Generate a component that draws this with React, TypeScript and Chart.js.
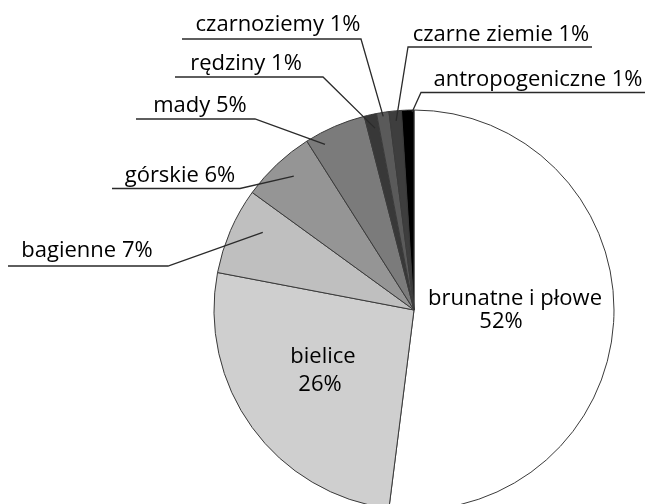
import React, { useEffect, useRef } from "react";
import { Chart, registerables } from "chart.js";

Chart.register(...registerables);

const categories = [
  "brunatne i płowe",
  "bielice",
  "bagienne",
  "górskie",
  "mady",
  "rędziny",
  "czarnoziemy",
  "czarne ziemie",
  "antropogeniczne",
];
const values = [52, 26, 7, 6, 5, 1, 1, 1, 1];
const sliceColors = [
  "#ffffff",
  "#cfcfcf",
  "#bfbfbf",
  "#959595",
  "#7b7b7b",
  "#383838",
  "#5a5a5a",
  "#3e3e3e",
  "#000000",
];

// layout of annotations (not data)
type Outside = { kind: "out"; cx: number; base: number; lineY: number; x0: number; knee: number; t: number; rf: number };
type Inside = { kind: "in"; lines: { cx: number; base: number }[] };
const labelLayout: (Outside | Inside)[] = [
  { kind: "in", lines: [{ cx: 515, base: 305 }, { cx: 501, base: 328 }] },
  { kind: "in", lines: [{ cx: 323, base: 363 }, { cx: 320, base: 391 }] },
  { kind: "out", cx: 87, base: 257, lineY: 266, x0: 8, knee: 168, t: 0.65, rf: 0.85 },
  { kind: "out", cx: 180, base: 182, lineY: 188.5, x0: 112, knee: 240, t: 0.56, rf: 0.9 },
  { kind: "out", cx: 200, base: 112, lineY: 119, x0: 136, knee: 255, t: 0.23, rf: 0.94 },
  { kind: "out", cx: 246, base: 70, lineY: 77, x0: 175, knee: 323, t: 0.64, rf: 0.93 },
  { kind: "out", cx: 278, base: 31, lineY: 39, x0: 182, knee: 361, t: 0.49, rf: 0.98 },
  { kind: "out", cx: 501, base: 41, lineY: 47, x0: 592, knee: 408, t: 0.5, rf: 0.95 },
  { kind: "out", cx: 538, base: 86, lineY: 92.5, x0: 645, knee: 421, t: 0.85, rf: 0.99 },
];

const labelPlugin = {
  id: "soilLabels",
  afterDatasetsDraw(chart: any) {
    const ctx = chart.ctx as CanvasRenderingContext2D;
    const meta = chart.getDatasetMeta(0);
    ctx.save();
    ctx.font = '22px "Open Sans"';
    ctx.fillStyle = "#000000";
    ctx.textBaseline = "alphabetic";
    ctx.textAlign = "center";
    labelLayout.forEach((lay, i) => {
      const arc = meta.data[i];
      if (!arc) return;
      const p = arc.getProps(["x", "y", "startAngle", "endAngle", "outerRadius"], true);
      if (lay.kind === "in") {
        ctx.fillText(categories[i], lay.lines[0].cx, lay.lines[0].base);
        ctx.fillText(values[i] + "%", lay.lines[1].cx, lay.lines[1].base);
      } else {
        const a = p.startAngle + lay.t * (p.endAngle - p.startAngle);
        const ex = p.x + Math.cos(a) * p.outerRadius * lay.rf;
        const ey = p.y + Math.sin(a) * p.outerRadius * lay.rf;
        ctx.beginPath();
        ctx.strokeStyle = "#2a2a2a";
        ctx.lineWidth = 1.3;
        ctx.moveTo(lay.x0, lay.lineY);
        ctx.lineTo(lay.knee, lay.lineY);
        ctx.lineTo(ex, ey);
        ctx.stroke();
        ctx.fillText(categories[i] + " " + values[i] + "%", lay.cx, lay.base);
      }
    });
    ctx.restore();
  },
};

export default function App() {
  const ref = useRef<HTMLCanvasElement>(null);
  useEffect(() => {
    document.body.style.margin = "0";
    document.body.style.overflow = "hidden";
    document.documentElement.style.overflow = "hidden";
    const chart = new Chart(ref.current!, {
      type: "pie",
      data: {
        labels: categories,
        datasets: [
          {
            data: values,
            backgroundColor: sliceColors,
            borderColor: "#3a3a3a",
            borderWidth: 1,
          },
        ],
      },
      options: {
        animation: false,
        responsive: false,
        radius: 200,
        layout: { padding: { left: 214, right: 34, top: 110, bottom: 20 } },
        plugins: { legend: { display: false }, tooltip: { enabled: false } },
      } as any,
      plugins: [labelPlugin],
    });
    return () => chart.destroy();
  }, []);
  return (
    <div style={{ position: "fixed", left: 0, top: 0, width: 648, height: 530, background: "#fff" }}>
      <canvas ref={ref} width={648} height={530} style={{ width: 648, height: 530, display: "block" }} />
    </div>
  );
}
